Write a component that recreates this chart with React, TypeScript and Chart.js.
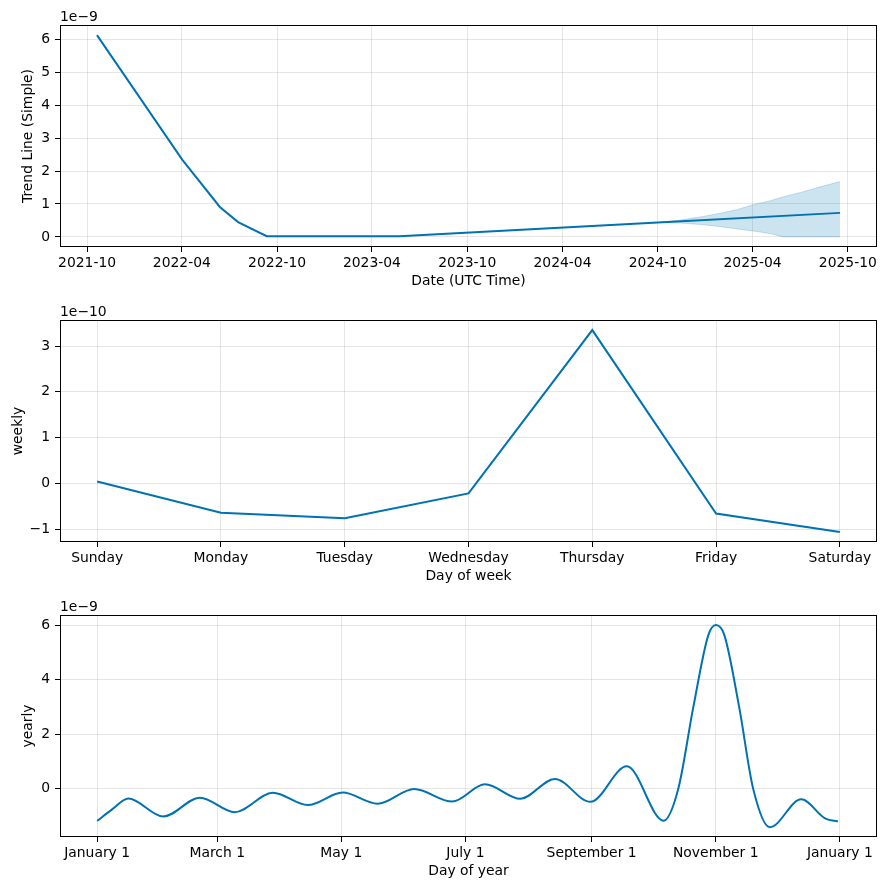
import React, { useEffect, useRef } from "react";
import { Chart, registerables } from "chart.js";

Chart.register(...registerables);

const FONT = "'DejaVu Sans', sans-serif";
const FS = 13.9;
const BLUE = "#0072B2";
const BAND = "rgba(0,114,178,0.2)";
const GRID = "rgba(128,128,128,0.2)";
const W = 886;
const H = 295;

// ---------- Panel 1: trend (values in units of 1e-9) ----------
const trendDates = ["2021-10-20", "2022-04-02", "2022-06-13", "2022-07-18", "2022-09-11", "2023-05-24", "2024-10-01", "2025-09-16"];
const trendValues = [6.13, 2.34, 0.91, 0.45, 0.02, 0.02, 0.44, 0.73];
const bandDates = ["2024-10-01", "2024-11-13", "2024-12-27", "2025-01-29", "2025-03-03", "2025-04-02", "2025-05-05", "2025-05-30", "2025-07-02", "2025-08-09", "2025-09-16"];
const bandUpper = [0.44, 0.51, 0.62, 0.72, 0.83, 0.98, 1.1, 1.22, 1.35, 1.52, 1.68];
const bandLower = [0.44, 0.42, 0.37, 0.31, 0.24, 0.18, 0.1, 0.0, 0.0, 0.0, 0.0];
const trendXTicks = ["2021-10", "2022-04", "2022-10", "2023-04", "2023-10", "2024-04", "2024-10", "2025-04", "2025-10"];
const trendYTicks = [0, 1, 2, 3, 4, 5, 6];
const trendYLabels = ["0", "1", "2", "3", "4", "5", "6"];

// ---------- Panel 2: weekly (values in units of 1e-10) ----------
const weekDays = ["Sunday", "Monday", "Tuesday", "Wednesday", "Thursday", "Friday", "Saturday"];
const weeklyValues = [0.04, -0.64, -0.76, -0.22, 3.35, -0.66, -1.06];
const weeklyYTicks = [-1, 0, 1, 2, 3];
const weeklyYLabels = ["\u22121", "0", "1", "2", "3"];

// ---------- Panel 3: yearly (values in units of 1e-9) ----------
const yearlyDays = [
  0, 7.5, 15.3, 32.5, 50.5, 67.6, 86.4, 103.5, 120.7, 137.8, 155.8, 174.5, 190.6, 208, 224.9, 242.4, 260.3, 278.4,
  285.6, 293, 300.4, 304.1, 308.2, 315.5, 322.4, 330.6,
  346, 358, 364,
];
const yearlyValues = [
  -1.18, -0.75, -0.36, -1.02, -0.33, -0.86, -0.15, -0.6, -0.14, -0.55, -0.01, -0.47, 0.16, -0.37, 0.36, -0.48, 0.82, -1.17,
  0.0, 3.0, 5.64, 6.0, 5.64, 3.0, 0.0, -1.41,
  -0.39, -1.1, -1.2,
];
const yearlyXTickDays = [0, 59, 120, 181, 243, 304, 365];
const yearlyXLabels = ["January 1", "March 1", "May 1", "July 1", "September 1", "November 1", "January 1"];
const yearlyYTicks = [0, 2, 4, 6];
const yearlyYLabels = ["0", "2", "4", "6"];

const ts = (s: string) => {
  const [y, m, d] = s.split("-").map(Number);
  return Date.UTC(y, m - 1, d || 1);
};

const framePlugin = {
  id: "frame",
  afterDraw(chart: any, _args: any, opts: any) {
    const { ctx, chartArea } = chart;
    const { left, top, right, bottom } = chartArea;
    ctx.save();
    ctx.strokeStyle = "#000";
    ctx.lineWidth = 1;
    ctx.strokeRect(left + 0.5, top + 0.5, right - left - 1, bottom - top - 1);
    if (opts && opts.text) {
      ctx.font = `${FS}px ${FONT}`;
      ctx.fillStyle = "#000";
      ctx.textAlign = "left";
      ctx.textBaseline = "alphabetic";
      ctx.fillText(opts.text, left, top - 4);
    }
    ctx.restore();
  },
};

function xScale(min: number, max: number, ticks: number[], labels: string[], title: string) {
  return {
    type: "linear",
    position: "bottom",
    min,
    max,
    afterBuildTicks: (s: any) => {
      s.ticks = ticks.map((v) => ({ value: v }));
    },
    afterFit: (s: any) => {
      s.height = 48;
    },
    ticks: {
      autoSkip: false,
      maxRotation: 0,
      minRotation: 0,
      padding: 3,
      color: "#000",
      font: { family: FONT, size: FS },
      callback: (_v: any, i: number) => labels[i],
    },
    grid: { color: GRID, lineWidth: 1, drawTicks: true, tickLength: 5, tickColor: "#000", tickWidth: 1 },
    border: { display: false },
    title: { display: true, text: title, color: "#000", font: { family: FONT, size: FS }, padding: { top: 0, bottom: 5 } },
  };
}

function yScale(min: number, max: number, ticks: number[], labels: string[], title: string, pad: number) {
  return {
    type: "linear",
    position: "left",
    min,
    max,
    afterBuildTicks: (s: any) => {
      s.ticks = ticks.map((v) => ({ value: v }));
    },
    afterFit: (s: any) => {
      s.width = 60;
    },
    ticks: {
      autoSkip: false,
      padding: 5,
      color: "#000",
      font: { family: FONT, size: FS },
      callback: (_v: any, i: number) => labels[i],
    },
    grid: { color: GRID, lineWidth: 1, drawTicks: true, tickLength: 5, tickColor: "#000", tickWidth: 1 },
    border: { display: false },
    title: { display: true, text: title, color: "#000", font: { family: FONT, size: FS }, padding: { top: pad, bottom: 0 } },
  };
}

function baseOptions(x: any, y: any, offsetText: string) {
  return {
    responsive: false,
    maintainAspectRatio: false,
    devicePixelRatio: 1,
    animation: false,
    events: [],
    layout: { padding: { top: 25, right: 9, left: 0, bottom: 0 } },
    scales: { x, y },
    plugins: {
      legend: { display: false },
      tooltip: { enabled: false },
      frame: { text: offsetText },
    },
  };
}

function trendConfig(): any {
  return {
    type: "line",
    data: {
      datasets: [
        {
          data: trendDates.map((d, i) => ({ x: ts(d), y: trendValues[i] })),
          borderColor: BLUE,
          borderWidth: 2,
          pointRadius: 0,
          fill: false,
          tension: 0,
        },
        {
          data: bandDates.map((d, i) => ({ x: ts(d), y: bandUpper[i] })),
          borderColor: BAND,
          backgroundColor: BAND,
          borderWidth: 1,
          pointRadius: 0,
          fill: "+1",
          tension: 0,
        },
        {
          data: bandDates.map((d, i) => ({ x: ts(d), y: bandLower[i] })),
          borderColor: BAND,
          borderWidth: 1,
          pointRadius: 0,
          fill: false,
          tension: 0,
        },
      ],
    },
    options: baseOptions(
      xScale(Date.UTC(2021, 7, 10), Date.UTC(2025, 10, 26), trendXTicks.map(ts), trendXTicks, "Date (UTC Time)"),
      yScale(-0.3065, 6.4365, trendYTicks, trendYLabels, "Trend Line (Simple)", 20),
      "1e\u22129"
    ),
    plugins: [framePlugin],
  };
}

function weeklyConfig(): any {
  return {
    type: "line",
    data: {
      datasets: [
        {
          data: weeklyValues.map((v, i) => ({ x: i, y: v })),
          borderColor: BLUE,
          borderWidth: 2,
          pointRadius: 0,
          fill: false,
          tension: 0,
        },
      ],
    },
    options: baseOptions(
      xScale(-0.3, 6.3, weekDays.map((_d, i) => i), weekDays, "Day of week"),
      yScale(-1.2805, 3.5705, weeklyYTicks, weeklyYLabels, "weekly", 10),
      "1e\u221210"
    ),
    plugins: [framePlugin],
  };
}

function yearlyConfig(): any {
  return {
    type: "line",
    data: {
      datasets: [
        {
          data: yearlyDays.map((d, i) => ({ x: d, y: yearlyValues[i] })),
          borderColor: BLUE,
          borderWidth: 2,
          pointRadius: 0,
          fill: false,
          cubicInterpolationMode: "monotone",
        },
      ],
    },
    options: baseOptions(
      xScale(-18.25, 383.25, yearlyXTickDays, yearlyXLabels, "Day of year"),
      yScale(-1.77, 6.37, yearlyYTicks, yearlyYLabels, "yearly", 20),
      "1e\u22129"
    ),
    plugins: [framePlugin],
  };
}

export default function App() {
  const r1 = useRef<HTMLCanvasElement>(null);
  const r2 = useRef<HTMLCanvasElement>(null);
  const r3 = useRef<HTMLCanvasElement>(null);

  useEffect(() => {
    const charts = [
      new Chart(r1.current as HTMLCanvasElement, trendConfig()),
      new Chart(r2.current as HTMLCanvasElement, weeklyConfig()),
      new Chart(r3.current as HTMLCanvasElement, yearlyConfig()),
    ];
    return () => charts.forEach((c) => c.destroy());
  }, []);

  const cs: React.CSSProperties = { display: "block", width: W, height: H };
  return (
    <div style={{ position: "absolute", left: 0, top: 0, width: W, height: 890, background: "#fff" }}>
      <canvas ref={r1} width={W} height={H} style={cs} />
      <canvas ref={r2} width={W} height={H} style={cs} />
      <canvas ref={r3} width={W} height={H} style={cs} />
    </div>
  );
}
